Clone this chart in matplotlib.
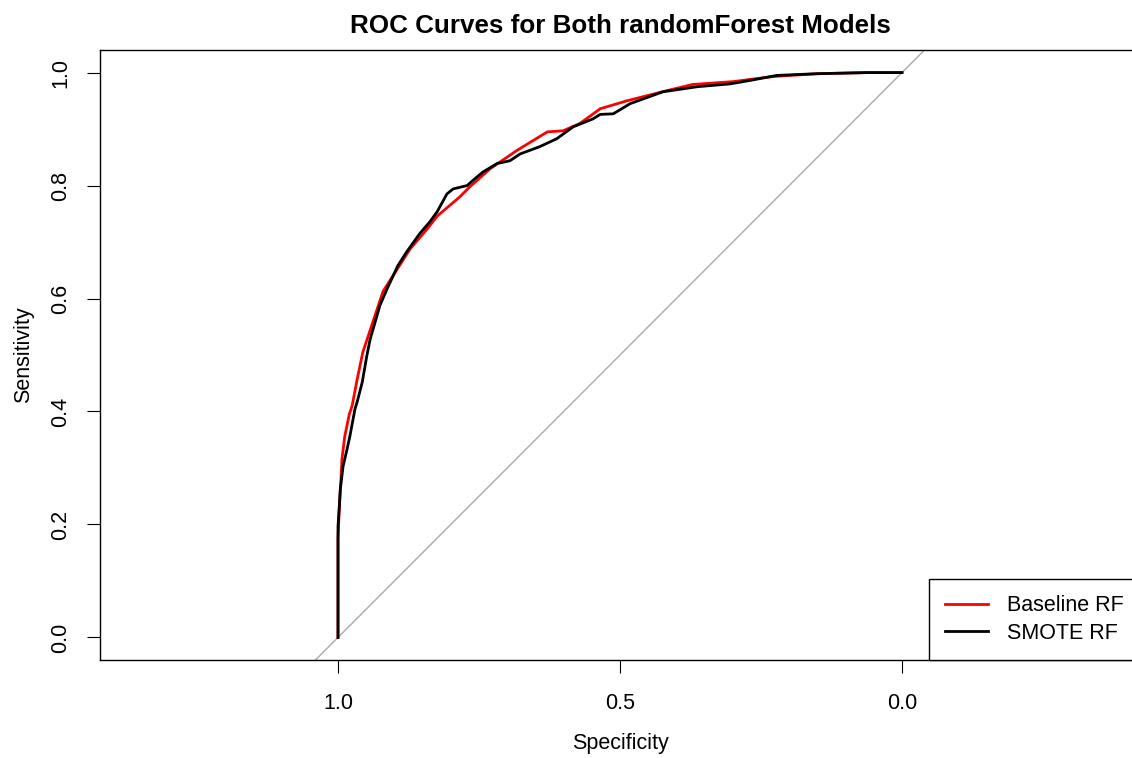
import matplotlib
matplotlib.use("Agg")
import matplotlib.pyplot as plt

# ROC points (specificity, sensitivity)
base_spec = [1.0, 1.0, 1.0, 0.998, 0.995, 0.993, 0.988, 0.980, 0.975, 0.966,
             0.956, 0.938, 0.920, 0.895, 0.872, 0.842, 0.824, 0.784, 0.766,
             0.730, 0.683, 0.629, 0.601, 0.571, 0.535, 0.488, 0.417, 0.371,
             0.300, 0.229, 0.151, 0.062, 0.0]
base_sens = [0.0, 0.067, 0.174, 0.222, 0.275, 0.316, 0.356, 0.395, 0.410, 0.457,
             0.505, 0.559, 0.613, 0.652, 0.688, 0.723, 0.746, 0.780, 0.798,
             0.830, 0.862, 0.895, 0.897, 0.910, 0.936, 0.950, 0.968, 0.979,
             0.984, 0.993, 0.998, 1.0, 1.0]

smote_spec = [1.0, 1.0, 1.0, 1.0, 0.998, 0.996, 0.991, 0.984, 0.979, 0.970,
              0.966, 0.957, 0.949, 0.943, 0.931, 0.926, 0.913, 0.894, 0.878,
              0.855, 0.837, 0.824, 0.807, 0.796, 0.771, 0.761, 0.743, 0.718,
              0.695, 0.677, 0.642, 0.612, 0.583, 0.548, 0.535, 0.512, 0.482,
              0.424, 0.363, 0.305, 0.270, 0.222, 0.151, 0.062, 0.0]
smote_sens = [0.0, 0.067, 0.144, 0.197, 0.227, 0.262, 0.303, 0.333, 0.356, 0.404,
              0.417, 0.452, 0.498, 0.528, 0.569, 0.587, 0.617, 0.658, 0.683,
              0.715, 0.736, 0.754, 0.785, 0.794, 0.800, 0.809, 0.824, 0.839,
              0.844, 0.856, 0.869, 0.883, 0.904, 0.918, 0.926, 0.927, 0.945,
              0.966, 0.975, 0.980, 0.986, 0.995, 0.998, 1.0, 1.0]

ticks = [1.0, 0.5, 0.0]
yticks = [0.0, 0.2, 0.4, 0.6, 0.8, 1.0]

plt.rcParams['font.family'] = ['Liberation Sans', 'DejaVu Sans']

W, H = 1132, 758
fig = plt.figure(figsize=(W / 100, H / 100), dpi=100)
# axes box runs a bit past the right edge of the picture, as in the original
ax = fig.add_axes([100 / W, 98 / H, 1040 / W, 610 / H])

ax.plot([-1, 2], [2, -1], color='#A9A9A9', lw=1, zorder=1)
ax.plot(base_spec, base_sens, color='red', lw=2, label='Baseline RF', zorder=2)
ax.plot(smote_spec, smote_sens, color='black', lw=2, label='SMOTE RF', zorder=3)

ax.set_xlim(1.422, -0.422)
ax.set_ylim(-0.04, 1.04)
ax.set_xticks(ticks)
ax.set_xticklabels([f"{t:.1f}" for t in ticks])
ax.set_yticks(yticks)
ax.set_yticklabels([f"{t:.1f}" for t in yticks], rotation=90, va='center')
ax.tick_params(axis='both', labelsize=15.5, length=9.5, width=0.8, direction='out')
ax.tick_params(axis='x', pad=14)
ax.tick_params(axis='y', pad=11)
for s in ax.spines.values():
    s.set_linewidth(1.0)

ax.set_xlabel('Specificity', fontsize=15.5, labelpad=14)
ax.set_ylabel('Sensitivity', fontsize=15.5, labelpad=12)
ax.set_title('ROC Curves for Both randomForest Models', fontsize=18.7,
             fontweight='bold', pad=12)

leg = ax.legend(loc='lower right', fontsize=15.5, frameon=True, fancybox=False,
                edgecolor='black', framealpha=1, borderaxespad=0,
                handlelength=2.0, handletextpad=0.9, labelspacing=0.3,
                borderpad=0.75)
leg.get_frame().set_linewidth(1.0)

fig.savefig('out.png', dpi=100)
